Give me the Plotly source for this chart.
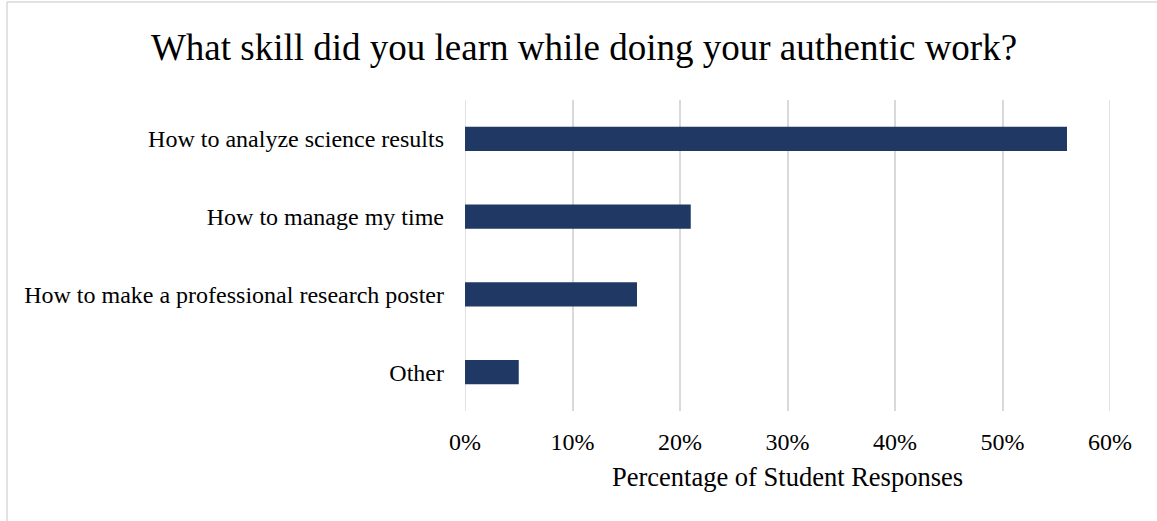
import plotly.graph_objects as go

categories = ["How to analyze science results", "How to manage my time",
              "How to make a professional research poster", "Other"]
values = [0.56, 0.21, 0.16, 0.05]
tick_vals = [0, 0.1, 0.2, 0.3, 0.4, 0.5, 0.6]
tick_text = ["0%", "10%", "20%", "30%", "40%", "50%", "60%"]

W, H = 1157, 521
L, R, T, B = 465, 47, 100, 110
pw, ph = W - L - R, H - T - B

def px(x):
    return (x - L) / pw

def py(y):
    return (H - B - y) / ph

font = "Liberation Serif, Times New Roman, serif"
grid = "#d9d9d9"

fig = go.Figure(go.Bar(
    y=categories, x=values, orientation="h",
    marker=dict(color="#203864", line=dict(width=0)),
    width=0.31,
))

edge_lines = [dict(type="line", xref="x", yref="paper", x0=v, x1=v, y0=0, y1=1,
                   line=dict(color=grid, width=1.5), layer="below")
              for v in (tick_vals[0], tick_vals[-1])]

fig.update_layout(
    width=W, height=H,
    margin=dict(l=L, r=R, t=T, b=B, pad=0),
    paper_bgcolor="white", plot_bgcolor="white",
    font=dict(family=font, color="#000000", size=24),
    title=dict(text="What skill did you learn while doing your authentic work?",
               x=584 / W, xanchor="center", y=1 - 47 / H, yanchor="middle",
               font=dict(size=37, family=font, color="#000000")),
    showlegend=False,
    xaxis=dict(range=[0, 0.6], tickvals=tick_vals, ticktext=tick_text,
               showgrid=True, gridcolor=grid, gridwidth=1.5,
               zeroline=False, showline=False, ticks="",
               tickfont=dict(size=24, family=font), ticklabelstandoff=14,
               title=dict(text="Percentage of Student Responses",
                          font=dict(size=26.5, family=font), standoff=13)),
    yaxis=dict(autorange="reversed", showgrid=False, zeroline=False,
               showline=False, ticks="", ticklabelstandoff=20,
               tickfont=dict(size=24, family=font)),
    shapes=edge_lines + [
        dict(type="line", xref="paper", yref="paper",
             x0=px(7), x1=px(W), y0=py(2), y1=py(2),
             line=dict(color=grid, width=1.5)),
        dict(type="line", xref="paper", yref="paper",
             x0=px(7), x1=px(7), y0=py(2), y1=py(H),
             line=dict(color=grid, width=1.5)),
    ],
)

fig.write_html("out.html")
